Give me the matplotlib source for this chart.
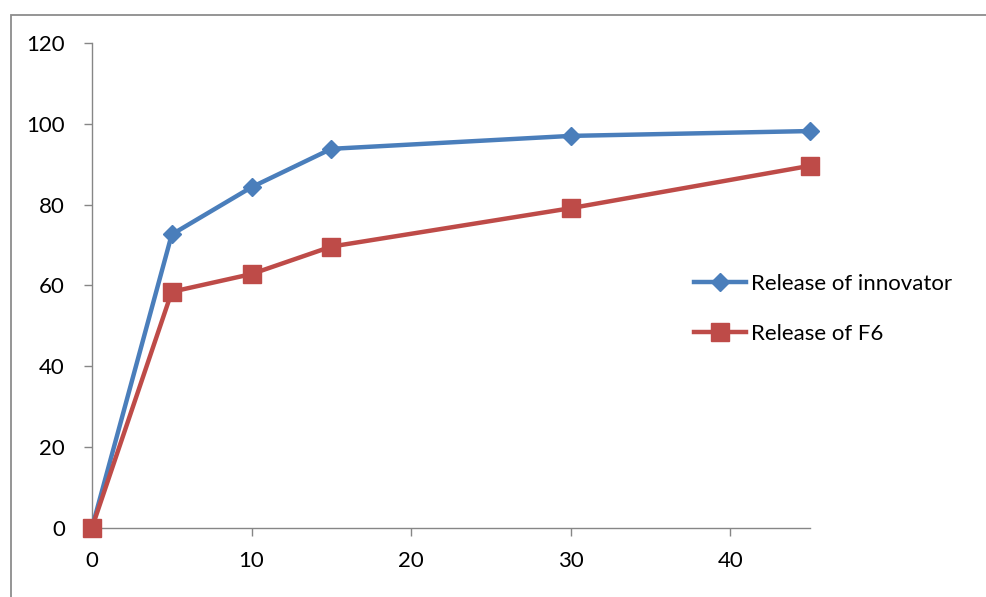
import numpy as np
import matplotlib
matplotlib.use('Agg')
import matplotlib.pyplot as plt
from matplotlib.patches import Rectangle

# release data (time, % released)
time = [0, 5, 10, 15, 30, 45]
innovator = [0, 72.6, 84.3, 93.8, 97.0, 98.2]
f6 = [0, 58.4, 62.8, 69.6, 79.1, 89.6]
labels = ['Release of innovator', 'Release of F6']

plt.rcParams['font.family'] = ['Lato', 'DejaVu Sans']

W, H = 986, 597
fig = plt.figure(figsize=(W/100, H/100), dpi=100)

# outer chart frame
fig.patches.append(Rectangle((11/W, -0.1), 1.2, 1 - 15/H + 0.1,
                             transform=fig.transFigure, fill=False,
                             edgecolor='#8c8c8c', linewidth=1.3))

ax = fig.add_axes([92/W, 1 - 527.7/H, (810 - 92)/W, (527.7 - 43)/H])

ax.plot(time, innovator, '-D', color='#4a7ebb', linewidth=3.2,
        markersize=9.5, label=labels[0], zorder=3, clip_on=False)
ax.plot(time, f6, '-s', color='#be4b48', linewidth=3.2,
        markersize=13, label=labels[1], zorder=4, clip_on=False)

ax.set_xlim(0, 45)
ax.set_ylim(0, 120)
ax.set_xticks([0, 10, 20, 30, 40])
ax.set_yticks(np.arange(0, 121, 20))

for s in ['top', 'right']:
    ax.spines[s].set_visible(False)
for s in ['left', 'bottom']:
    ax.spines[s].set_color('#868686')
    ax.spines[s].set_linewidth(1.0)
ax.tick_params(axis='both', direction='out', length=5.5, width=1.0,
               color='#868686', labelsize=16, pad=11)
ax.tick_params(axis='y', pad=14)

fig.legend(loc='center left', bbox_to_anchor=(674/W, 1 - 309/H),
           frameon=False, fontsize=16, handlelength=2.35,
           handletextpad=0.2, labelspacing=1.35)

fig.savefig('out.png', dpi=100)
